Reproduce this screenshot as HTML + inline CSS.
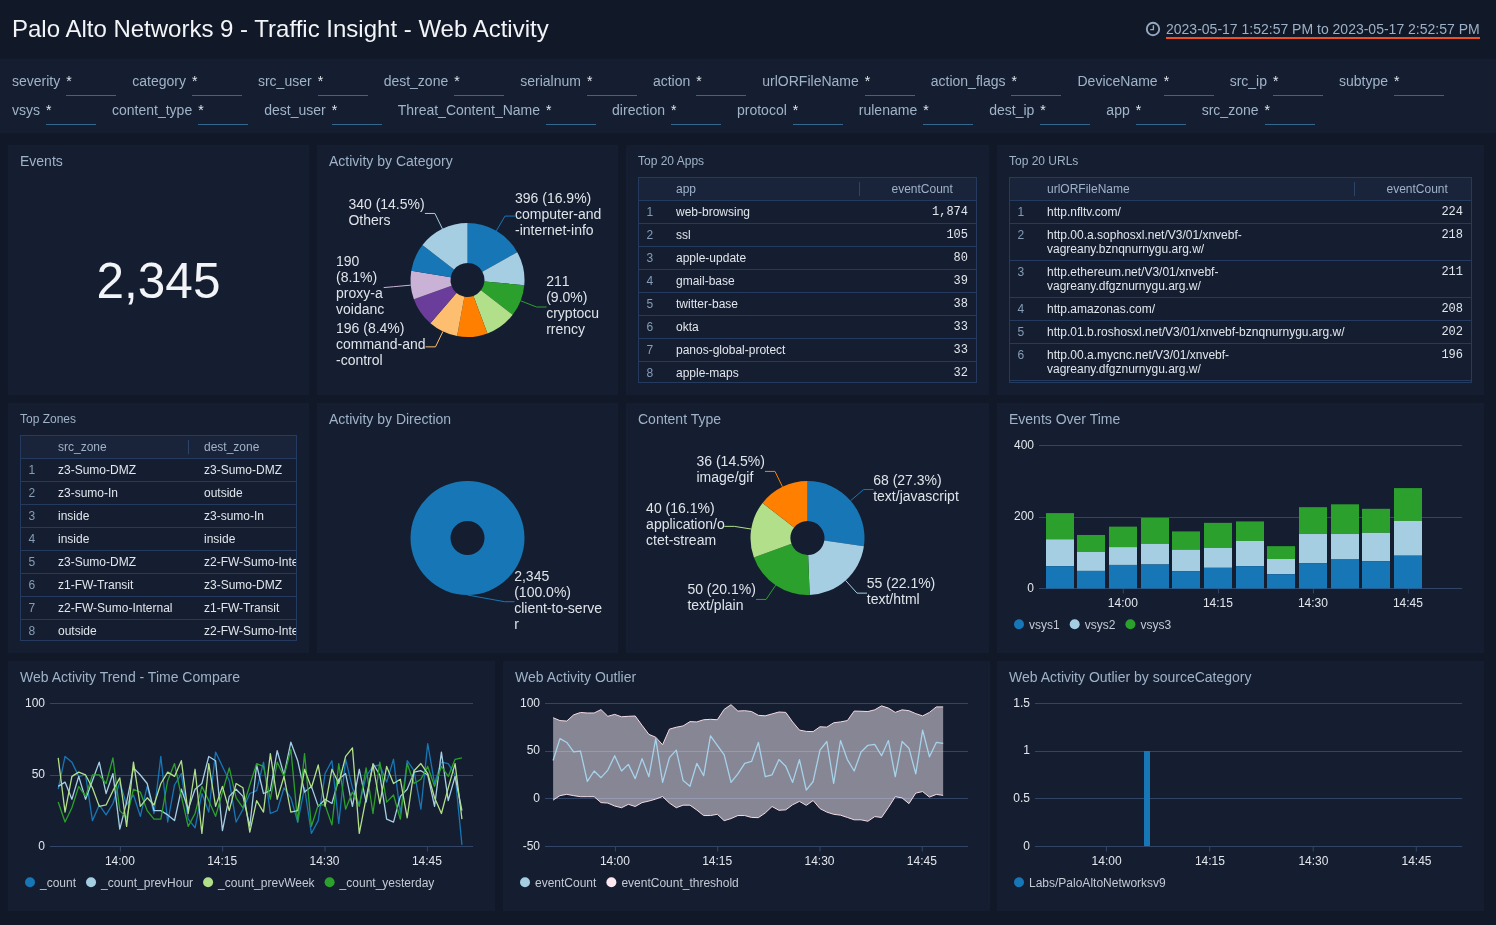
<!DOCTYPE html>
<html lang="en">
<head>
<meta charset="utf-8">
<title>Palo Alto Networks 9 - Traffic Insight - Web Activity</title>
<style>
*{box-sizing:border-box}
html,body{margin:0;padding:0}
body{width:1496px;height:925px;overflow:hidden;background:#111827;font-family:"Liberation Sans",Arial,sans-serif;color:#e6eaf0;position:relative}
.hdr{position:absolute;left:0;top:0;width:1496px;height:59px;background:#111827}
.hdr h1{position:absolute;left:12px;top:15px;margin:0;font-size:24px;line-height:28px;font-weight:400;color:#f2f4f7;white-space:nowrap}
.time{position:absolute;left:1166px;top:21px;font-size:14px;line-height:17px;height:18px;color:#9cb0c7;white-space:nowrap;border-bottom:2px solid #f0501f}
.clock{position:absolute;left:1145px;top:21px}
.flt{position:absolute;left:0;top:59px;width:1496px;height:74px;background:#151e30;padding:8px 0 0 12px}
.fr{display:flex;height:29px;white-space:nowrap}
.f{display:flex;margin-right:16px;font-size:14px;line-height:28px;color:#a0b3c9}
.f span{display:block;margin-right:6px}
.f i{display:block;width:50px;height:29px;border-bottom:1px solid #34688f;font-style:normal;color:#e3e8ee}
.p{position:absolute;background:#151e30}
.p h2{position:absolute;left:12px;top:8px;margin:0;font-weight:400;line-height:16px;color:#9fb2c8;white-space:nowrap}
.big{position:absolute;left:8px;top:253px;width:301px;text-align:center;font-size:49.5px;line-height:56px;color:#f2f4f7}
.charts{position:absolute;left:0;top:0}
.tbl{position:absolute;height:206px;border:1px solid #243a5f;overflow:hidden;font-size:12px;box-sizing:content-box;height:204px}
.tr{display:flex;border-bottom:1px solid #243a5f;min-height:23px;white-space:nowrap}
.tr>div{padding:4px 8px 0 8px;line-height:14px;min-height:22px;padding-bottom:4px;overflow:hidden}
.th{background:#19233a;color:#9fb2c8}
.ix{width:29px;color:#869cb6;padding-left:7.4px!important}
.c1{color:#e1e6ec;position:relative}
.th .c1{color:#9fb2c8}
.th .c1 b{position:absolute;right:6px;top:4px;width:1px;height:14px;background:#2b4467}
.c2{color:#e1e6ec}
.c2.n{text-align:right;font-family:"Liberation Mono","DejaVu Sans Mono",monospace}
.c2h.n{padding-left:25.5px!important}
</style>
</head>
<body>
<div class="hdr">
<h1>Palo Alto Networks 9 - Traffic Insight - Web Activity</h1>
<svg class="clock" width="16" height="16" viewBox="0 0 16 16"><circle cx="8" cy="8" r="6.2" fill="none" stroke="#94a8c0" stroke-width="1.9"/><path d="M8.4 4.3V8.6H5.2" fill="none" stroke="#94a8c0" stroke-width="1.4"/></svg>
<div class="time">2023-05-17 1:52:57 PM to 2023-05-17 2:52:57 PM</div>
</div>
<div class="flt">
<div class="fr"><div class="f"><span>severity</span><i>*</i></div><div class="f"><span>category</span><i>*</i></div><div class="f"><span>src_user</span><i>*</i></div><div class="f"><span>dest_zone</span><i>*</i></div><div class="f"><span>serialnum</span><i>*</i></div><div class="f"><span>action</span><i>*</i></div><div class="f"><span>urlORFileName</span><i>*</i></div><div class="f"><span>action_flags</span><i>*</i></div><div class="f"><span>DeviceName</span><i>*</i></div><div class="f"><span>src_ip</span><i>*</i></div><div class="f"><span>subtype</span><i>*</i></div></div>
<div class="fr"><div class="f"><span>vsys</span><i>*</i></div><div class="f"><span>content_type</span><i>*</i></div><div class="f"><span>dest_user</span><i>*</i></div><div class="f"><span>Threat_Content_Name</span><i>*</i></div><div class="f"><span>direction</span><i>*</i></div><div class="f"><span>protocol</span><i>*</i></div><div class="f"><span>rulename</span><i>*</i></div><div class="f"><span>dest_ip</span><i>*</i></div><div class="f"><span>app</span><i>*</i></div><div class="f"><span>src_zone</span><i>*</i></div></div>
</div>
<div class="p" style="left:8px;top:145px;width:301px;height:250px"><h2 style="font-size:14px">Events</h2></div>
<div class="p" style="left:317px;top:145px;width:301px;height:250px"><h2 style="font-size:14px">Activity by Category</h2></div>
<div class="p" style="left:626px;top:145px;width:363px;height:250px"><h2 style="font-size:12px">Top 20 Apps</h2></div>
<div class="p" style="left:997px;top:145px;width:487px;height:250px"><h2 style="font-size:12px">Top 20 URLs</h2></div>
<div class="p" style="left:8px;top:403px;width:301px;height:250px"><h2 style="font-size:12px">Top Zones</h2></div>
<div class="p" style="left:317px;top:403px;width:301px;height:250px"><h2 style="font-size:14px">Activity by Direction</h2></div>
<div class="p" style="left:626px;top:403px;width:363px;height:250px"><h2 style="font-size:14px">Content Type</h2></div>
<div class="p" style="left:997px;top:403px;width:487px;height:250px"><h2 style="font-size:14px">Events Over Time</h2></div>
<div class="p" style="left:8px;top:661px;width:487px;height:250px"><h2 style="font-size:14px">Web Activity Trend - Time Compare</h2></div>
<div class="p" style="left:503px;top:661px;width:487px;height:250px"><h2 style="font-size:14px">Web Activity Outlier</h2></div>
<div class="p" style="left:997px;top:661px;width:487px;height:250px"><h2 style="font-size:14px">Web Activity Outlier by sourceCategory</h2></div>
<div class="big">2,345</div>
<div class="tbl" style="left:638px;top:177px;width:337px">
<div class="tr th"><div class="ix"></div><div class="c1" style="width:198px">app<b style="right:6px"></b></div><div class="c2h n" style="width:110px">eventCount</div></div>
<div class="tr"><div class="ix">1</div><div class="c1" style="width:198px">web-browsing</div><div class="c2 n" style="width:110px">1,874</div></div>
<div class="tr"><div class="ix">2</div><div class="c1" style="width:198px">ssl</div><div class="c2 n" style="width:110px">105</div></div>
<div class="tr"><div class="ix">3</div><div class="c1" style="width:198px">apple-update</div><div class="c2 n" style="width:110px">80</div></div>
<div class="tr"><div class="ix">4</div><div class="c1" style="width:198px">gmail-base</div><div class="c2 n" style="width:110px">39</div></div>
<div class="tr"><div class="ix">5</div><div class="c1" style="width:198px">twitter-base</div><div class="c2 n" style="width:110px">38</div></div>
<div class="tr"><div class="ix">6</div><div class="c1" style="width:198px">okta</div><div class="c2 n" style="width:110px">33</div></div>
<div class="tr"><div class="ix">7</div><div class="c1" style="width:198px">panos-global-protect</div><div class="c2 n" style="width:110px">33</div></div>
<div class="tr"><div class="ix">8</div><div class="c1" style="width:198px">apple-maps</div><div class="c2 n" style="width:110px">32</div></div>
</div>
<div class="tbl" style="left:1009px;top:177px;width:461px">
<div class="tr th"><div class="ix"></div><div class="c1" style="width:322px">urlORFileName<b style="right:6px"></b></div><div class="c2h n" style="width:110px">eventCount</div></div>
<div class="tr"><div class="ix">1</div><div class="c1" style="width:322px">http.nfltv.com/</div><div class="c2 n" style="width:110px">224</div></div>
<div class="tr"><div class="ix">2</div><div class="c1" style="width:322px">http.00.a.sophosxl.net/V3/01/xnvebf-<br>vagreany.bznqnurnygu.arg.w/</div><div class="c2 n" style="width:110px">218</div></div>
<div class="tr"><div class="ix">3</div><div class="c1" style="width:322px">http.ethereum.net/V3/01/xnvebf-<br>vagreany.dfgznurnygu.arg.w/</div><div class="c2 n" style="width:110px">211</div></div>
<div class="tr"><div class="ix">4</div><div class="c1" style="width:322px">http.amazonas.com/</div><div class="c2 n" style="width:110px">208</div></div>
<div class="tr"><div class="ix">5</div><div class="c1" style="width:322px">http.01.b.roshosxl.net/V3/01/xnvebf-bznqnurnygu.arg.w/</div><div class="c2 n" style="width:110px">202</div></div>
<div class="tr"><div class="ix">6</div><div class="c1" style="width:322px">http.00.a.mycnc.net/V3/01/xnvebf-<br>vagreany.dfgznurnygu.arg.w/</div><div class="c2 n" style="width:110px">196</div></div>
</div>
<div class="tbl" style="left:20px;top:435px;width:275px">
<div class="tr th"><div class="ix"></div><div class="c1" style="width:146px">src_zone<b style="right:7px"></b></div><div class="c2h" style="width:100px">dest_zone</div></div>
<div class="tr"><div class="ix">1</div><div class="c1" style="width:146px">z3-Sumo-DMZ</div><div class="c2" style="width:100px">z3-Sumo-DMZ</div></div>
<div class="tr"><div class="ix">2</div><div class="c1" style="width:146px">z3-sumo-In</div><div class="c2" style="width:100px">outside</div></div>
<div class="tr"><div class="ix">3</div><div class="c1" style="width:146px">inside</div><div class="c2" style="width:100px">z3-sumo-In</div></div>
<div class="tr"><div class="ix">4</div><div class="c1" style="width:146px">inside</div><div class="c2" style="width:100px">inside</div></div>
<div class="tr"><div class="ix">5</div><div class="c1" style="width:146px">z3-Sumo-DMZ</div><div class="c2" style="width:100px">z2-FW-Sumo-Internal</div></div>
<div class="tr"><div class="ix">6</div><div class="c1" style="width:146px">z1-FW-Transit</div><div class="c2" style="width:100px">z3-Sumo-DMZ</div></div>
<div class="tr"><div class="ix">7</div><div class="c1" style="width:146px">z2-FW-Sumo-Internal</div><div class="c2" style="width:100px">z1-FW-Transit</div></div>
<div class="tr"><div class="ix">8</div><div class="c1" style="width:146px">outside</div><div class="c2" style="width:100px">z2-FW-Sumo-Internal</div></div>
</div>
<svg class="charts" width="1496" height="925" viewBox="0 0 1496 925" font-family="Liberation Sans, Arial, sans-serif">
<g font-size="14" fill="#dfe4ea" style="font-kerning:none">
<path d="M467.5 223A57 57 0 0 1 517.25 252.19L482.34 271.7A17 17 0 0 0 467.5 263Z" fill="#1776b6" fill-rule="evenodd"/>
<path d="M517.25 252.19A57 57 0 0 1 524.27 285.15L484.43 281.54A17 17 0 0 0 482.34 271.7Z" fill="#a6cee3" fill-rule="evenodd"/>
<path d="M524.27 285.15A57 57 0 0 1 512.68 314.76L480.97 290.37A17 17 0 0 0 484.43 281.54Z" fill="#2ca02c" fill-rule="evenodd"/>
<path d="M512.68 314.76A57 57 0 0 1 487.46 333.39L473.45 295.92A17 17 0 0 0 480.97 290.37Z" fill="#b2df8a" fill-rule="evenodd"/>
<path d="M487.46 333.39A57 57 0 0 1 457.1 336.04L464.4 296.71A17 17 0 0 0 473.45 295.92Z" fill="#ff7f00" fill-rule="evenodd"/>
<path d="M457.1 336.04A57 57 0 0 1 430.4 323.27L456.44 292.91A17 17 0 0 0 464.4 296.71Z" fill="#fdbf6f" fill-rule="evenodd"/>
<path d="M430.4 323.27A57 57 0 0 1 413.86 299.28L451.5 285.75A17 17 0 0 0 456.44 292.91Z" fill="#6a3d9a" fill-rule="evenodd"/>
<path d="M413.86 299.28A57 57 0 0 1 411.27 270.69L450.73 277.22A17 17 0 0 0 451.5 285.75Z" fill="#cab2d6" fill-rule="evenodd"/>
<path d="M411.27 270.69A57 57 0 0 1 422.46 245.06L454.07 269.58A17 17 0 0 0 450.73 277.22Z" fill="#1776b6" fill-rule="evenodd"/>
<path d="M422.46 245.06A57 57 0 0 1 467.5 223L467.5 263A17 17 0 0 0 454.07 269.58Z" fill="#a6cee3" fill-rule="evenodd"/>
<polyline points="496.34,230.84 504.99,216.09 514.99,216.09" fill="none" stroke="#1776b6" stroke-width="1"/>
<text x="515" y="202.8">396 (16.9%)</text>
<text x="515" y="218.8">computer-and</text>
<text x="515" y="234.8">-internet-info</text>
<polyline points="520.58,300.78 536.5,307.01 546.5,307.01" fill="none" stroke="#2ca02c" stroke-width="1"/>
<text x="546.2" y="286">211</text>
<text x="546.2" y="302">(9.0%)</text>
<text x="546.2" y="318">cryptocu</text>
<text x="546.2" y="334">rrency</text>
<polyline points="442.91,331.42 435.53,346.85 425.53,346.85" fill="none" stroke="#fdbf6f" stroke-width="1"/>
<text x="336" y="332.8">196 (8.4%)</text>
<text x="336" y="348.8">command-and</text>
<text x="336" y="364.8">-control</text>
<polyline points="410.73,285.15 393.7,286.69 383.7,287.6" fill="none" stroke="#cab2d6" stroke-width="1"/>
<text x="336" y="265.7">190</text>
<text x="336" y="281.7">(8.1%)</text>
<text x="336" y="297.7">proxy-a</text>
<text x="336" y="313.7">voidanc</text>
<polyline points="442.43,228.81 434.9,213.46 424.9,213.46" fill="none" stroke="#a6cee3" stroke-width="1"/>
<text x="348.4" y="208.8">340 (14.5%)</text>
<text x="348.4" y="224.8">Others</text>
<path d="M467.5 481A57 57 0 1 1 467.5 595A57 57 0 1 1 467.5 481ZM467.5 521A17 17 0 1 0 467.5 555A17 17 0 1 0 467.5 521Z" fill="#1776b6" fill-rule="evenodd"/>
<polyline points="467.5,595 504.5,601.7 514.5,601.7" fill="none" stroke="#1776b6" stroke-width="1"/>
<text x="514.2" y="580.8">2,345</text>
<text x="514.2" y="596.8">(100.0%)</text>
<text x="514.2" y="612.8">client-to-serve</text>
<text x="514.2" y="628.8">r</text>
<path d="M807.5 481A57 57 0 0 1 863.9 546.24L824.32 540.46A17 17 0 0 0 807.5 521Z" fill="#1776b6" fill-rule="evenodd"/>
<path d="M863.9 546.24A57 57 0 0 1 809.66 594.96L808.14 554.99A17 17 0 0 0 824.32 540.46Z" fill="#a6cee3" fill-rule="evenodd"/>
<path d="M809.66 594.96A57 57 0 0 1 753.9 557.38L791.51 543.78A17 17 0 0 0 808.14 554.99Z" fill="#2ca02c" fill-rule="evenodd"/>
<path d="M753.9 557.38A57 57 0 0 1 762.55 502.95L794.1 527.55A17 17 0 0 0 791.51 543.78Z" fill="#b2df8a" fill-rule="evenodd"/>
<path d="M762.55 502.95A57 57 0 0 1 807.5 481L807.5 521A17 17 0 0 0 794.1 527.55Z" fill="#ff7f00" fill-rule="evenodd"/>
<polyline points="850.62,500.72 863.56,489.54 873.56,489.54" fill="none" stroke="#1776b6" stroke-width="1"/>
<text x="873.2" y="485">68 (27.3%)</text>
<text x="873.2" y="501">text/javascript</text>
<polyline points="845.59,580.41 857.01,593.13 867.01,593.13" fill="none" stroke="#a6cee3" stroke-width="1"/>
<text x="866.8" y="587.8">55 (22.1%)</text>
<text x="866.8" y="603.8">text/html</text>
<polyline points="775.65,585.27 766.09,599.45 756.09,599.45" fill="none" stroke="#2ca02c" stroke-width="1"/>
<text x="687.4" y="593.5">50 (20.1%)</text>
<text x="687.4" y="609.5">text/plain</text>
<polyline points="751.21,529.05 734.32,526.36 724.32,526.36" fill="none" stroke="#b2df8a" stroke-width="1"/>
<text x="646.1" y="513.2">40 (16.1%)</text>
<text x="646.1" y="529.2">application/o</text>
<text x="646.1" y="545.2">ctet-stream</text>
<polyline points="782.49,486.78 774.99,471.41 764.99,471.41" fill="none" stroke="#ff7f00" stroke-width="1"/>
<text x="696.5" y="466.2">36 (14.5%)</text>
<text x="696.5" y="482.2">image/gif</text>
</g>
<path d="M1039 445.5H1462" stroke="#334567" stroke-width="1" fill="none"/>
<path d="M1039 517.5H1462" stroke="#334567" stroke-width="1" fill="none"/>
<path d="M1039 588.5H1462" stroke="#334567" stroke-width="1" fill="none"/>
<path d="M1123.3 588.5v5" stroke="#334567" stroke-width="1" fill="none"/>
<path d="M1218.4 588.5v5" stroke="#334567" stroke-width="1" fill="none"/>
<path d="M1313.4 588.5v5" stroke="#334567" stroke-width="1" fill="none"/>
<path d="M1408.4 588.5v5" stroke="#334567" stroke-width="1" fill="none"/>
<g fill="#e2e6ec" font-size="12">
<text x="1034" y="449" text-anchor="end">400</text>
<text x="1034" y="520" text-anchor="end">200</text>
<text x="1034" y="592" text-anchor="end">0</text>
<text x="1122.8" y="607" text-anchor="middle">14:00</text>
<text x="1217.9" y="607" text-anchor="middle">14:15</text>
<text x="1312.9" y="607" text-anchor="middle">14:30</text>
<text x="1407.9" y="607" text-anchor="middle">14:45</text>
</g>
<rect x="1046" y="513.1" width="28" height="26.17" fill="#2ca02c"/><rect x="1046" y="539.27" width="28" height="26.88" fill="#a6cee3"/><rect x="1046" y="566.16" width="28" height="22.34" fill="#1776b6"/>
<rect x="1077" y="534.98" width="28" height="16.87" fill="#2ca02c"/><rect x="1077" y="551.86" width="28" height="19.05" fill="#a6cee3"/><rect x="1077" y="570.91" width="28" height="17.59" fill="#1776b6"/>
<rect x="1109" y="526.65" width="28" height="20.45" fill="#2ca02c"/><rect x="1109" y="547.1" width="28" height="17.84" fill="#a6cee3"/><rect x="1109" y="564.94" width="28" height="23.56" fill="#1776b6"/>
<rect x="1141" y="517.86" width="28" height="25.92" fill="#2ca02c"/><rect x="1141" y="543.78" width="28" height="20.7" fill="#a6cee3"/><rect x="1141" y="564.48" width="28" height="24.02" fill="#1776b6"/>
<rect x="1172" y="531.41" width="28" height="18.3" fill="#2ca02c"/><rect x="1172" y="549.71" width="28" height="21.41" fill="#a6cee3"/><rect x="1172" y="571.13" width="28" height="17.37" fill="#1776b6"/>
<rect x="1204" y="522.86" width="28" height="24.95" fill="#2ca02c"/><rect x="1204" y="547.82" width="28" height="19.98" fill="#a6cee3"/><rect x="1204" y="567.8" width="28" height="20.7" fill="#1776b6"/>
<rect x="1236" y="521.43" width="28" height="19.52" fill="#2ca02c"/><rect x="1236" y="540.95" width="28" height="25.2" fill="#a6cee3"/><rect x="1236" y="566.16" width="28" height="22.34" fill="#1776b6"/>
<rect x="1267" y="546.17" width="28" height="12.83" fill="#2ca02c"/><rect x="1267" y="559.01" width="28" height="15.23" fill="#a6cee3"/><rect x="1267" y="574.24" width="28" height="14.26" fill="#1776b6"/>
<rect x="1299" y="507.17" width="28" height="26.85" fill="#2ca02c"/><rect x="1299" y="534.02" width="28" height="29.28" fill="#a6cee3"/><rect x="1299" y="563.3" width="28" height="25.2" fill="#1776b6"/>
<rect x="1331" y="504.31" width="28" height="29.71" fill="#2ca02c"/><rect x="1331" y="534.02" width="28" height="25.45" fill="#a6cee3"/><rect x="1331" y="559.47" width="28" height="29.03" fill="#1776b6"/>
<rect x="1362" y="508.81" width="28" height="24.02" fill="#2ca02c"/><rect x="1362" y="532.84" width="28" height="28.31" fill="#a6cee3"/><rect x="1362" y="561.15" width="28" height="27.35" fill="#1776b6"/>
<rect x="1394" y="488.11" width="28" height="32.82" fill="#2ca02c"/><rect x="1394" y="520.93" width="28" height="34.75" fill="#a6cee3"/><rect x="1394" y="555.68" width="28" height="32.82" fill="#1776b6"/>
<g fill="#c3cad4" font-size="12">
<circle cx="1019" cy="624.3" r="5" fill="#1776b6"/>
<text x="1029" y="628.7">vsys1</text>
<circle cx="1074.7" cy="624.3" r="5" fill="#a6cee3"/>
<text x="1084.7" y="628.7">vsys2</text>
<circle cx="1130.4" cy="624.3" r="5" fill="#2ca02c"/>
<text x="1140.4" y="628.7">vsys3</text>
</g>
<path d="M50 703.5H473" stroke="#334567" stroke-width="1" fill="none"/>
<path d="M50 775.5H473" stroke="#334567" stroke-width="1" fill="none"/>
<path d="M50 846.5H473" stroke="#334567" stroke-width="1" fill="none"/>
<path d="M120.4 846.5v5" stroke="#334567" stroke-width="1" fill="none"/>
<path d="M222.7 846.5v5" stroke="#334567" stroke-width="1" fill="none"/>
<path d="M325 846.5v5" stroke="#334567" stroke-width="1" fill="none"/>
<path d="M427.4 846.5v5" stroke="#334567" stroke-width="1" fill="none"/>
<g fill="#e2e6ec" font-size="12">
<text x="45" y="707" text-anchor="end">100</text>
<text x="45" y="778" text-anchor="end">50</text>
<text x="45" y="850" text-anchor="end">0</text>
<text x="119.9" y="864.8" text-anchor="middle">14:00</text>
<text x="222.2" y="864.8" text-anchor="middle">14:15</text>
<text x="324.5" y="864.8" text-anchor="middle">14:30</text>
<text x="426.9" y="864.8" text-anchor="middle">14:45</text>
</g>
<polyline points="58.2,789.24 65.04,756.43 71.89,762.14 78.73,776.4 85.57,774.97 92.42,820.62 99.26,804.93 106.1,814.92 112.94,803.5 119.79,782.11 126.63,804.93 133.47,794.95 140.32,816.34 147.16,786.39 154,813.49 160.84,756.43 167.69,822.05 174.53,784.96 181.37,773.55 188.22,819.2 195.06,827.76 201.9,793.52 208.75,812.06 215.59,752.15 222.43,766.42 229.27,780.68 236.12,822.05 242.96,809.21 249.8,793.52 256.65,790.67 263.49,762.14 270.33,813.49 277.18,810.64 284.02,787.81 290.86,797.8 297.7,822.05 304.55,787.81 311.39,833.46 318.23,820.62 325.08,773.55 331.92,760.71 338.76,823.48 345.61,759.28 352.45,787.81 359.29,804.93 366.13,776.4 372.98,766.42 379.82,764.99 386.66,782.11 393.51,759.28 400.35,813.49 407.19,760.71 414.04,770.7 420.88,809.21 427.72,743.59 434.56,783.53 441.41,762.14 448.25,763.56 455.09,774.97 461.94,844.87" fill="none" stroke="#1776b6" stroke-width="1.3" stroke-linejoin="round"/>
<polyline points="58.2,786.39 65.04,782.11 71.89,799.23 78.73,776.4 85.57,799.23 92.42,780.68 99.26,762.14 106.1,793.52 112.94,773.55 119.79,829.18 126.63,802.08 133.47,767.84 140.32,774.97 147.16,783.53 154,810.64 160.84,810.64 167.69,814.92 174.53,820.62 181.37,789.24 188.22,809.21 195.06,789.24 201.9,783.53 208.75,756.43 215.59,760.71 222.43,830.61 229.27,796.37 236.12,789.24 242.96,796.37 249.8,826.33 256.65,764.99 263.49,793.52 270.33,790.67 277.18,750.72 284.02,774.97 290.86,742.17 297.7,760.71 304.55,792.09 311.39,786.39 318.23,806.36 325.08,799.23 331.92,803.5 338.76,779.25 345.61,773.55 352.45,806.36 359.29,769.27 366.13,802.08 372.98,763.56 379.82,774.97 386.66,819.2 393.51,822.05 400.35,796.37 407.19,789.24 414.04,772.12 420.88,770.7 427.72,774.97 434.56,806.36 441.41,752.15 448.25,800.65 455.09,776.4 461.94,810.64" fill="none" stroke="#a6cee3" stroke-width="1.3" stroke-linejoin="round"/>
<polyline points="58.2,802.08 65.04,822.05 71.89,807.78 78.73,786.39 85.57,796.37 92.42,774.97 99.26,774.97 106.1,783.53 112.94,757.86 119.79,810.64 126.63,817.77 133.47,789.24 140.32,792.09 147.16,810.64 154,819.2 160.84,819.2 167.69,780.68 174.53,763.56 181.37,796.37 188.22,826.33 195.06,813.49 201.9,786.39 208.75,800.65 215.59,816.34 222.43,792.09 229.27,767.84 236.12,797.8 242.96,807.78 249.8,784.96 256.65,763.56 263.49,766.42 270.33,799.23 277.18,762.14 284.02,776.4 290.86,749.3 297.7,822.05 304.55,753.58 311.39,826.33 318.23,804.93 325.08,804.93 331.92,824.9 338.76,763.56 345.61,809.21 352.45,792.09 359.29,806.36 366.13,767.84 372.98,813.49 379.82,762.14 386.66,802.08 393.51,794.95 400.35,819.2 407.19,763.56 414.04,783.53 420.88,779.25 427.72,766.42 434.56,786.39 441.41,766.42 448.25,776.4 455.09,759.28 461.94,757.86" fill="none" stroke="#2ca02c" stroke-width="1.3" stroke-linejoin="round"/>
<polyline points="58.2,757.86 65.04,812.06 71.89,776.4 78.73,772.12 85.57,774.97 92.42,787.81 99.26,806.36 106.1,804.93 112.94,790.67 119.79,777.83 126.63,826.33 133.47,762.14 140.32,806.36 147.16,797.8 154,804.93 160.84,783.53 167.69,772.12 174.53,776.4 181.37,760.71 188.22,813.49 195.06,769.27 201.9,833.46 208.75,763.56 215.59,806.36 222.43,786.39 229.27,810.64 236.12,783.53 242.96,787.81 249.8,832.03 256.65,800.65 263.49,812.06 270.33,753.58 277.18,799.23 284.02,776.4 290.86,812.06 297.7,810.64 304.55,769.27 311.39,787.81 318.23,764.99 325.08,806.36 331.92,769.27 338.76,783.53 345.61,756.43 352.45,747.87 359.29,833.46 366.13,797.8 372.98,764.99 379.82,803.5 386.66,766.42 393.51,783.53 400.35,779.25 407.19,817.77 414.04,770.7 420.88,763.56 427.72,773.55 434.56,797.8 441.41,813.49 448.25,787.81 455.09,763.56 461.94,819.2" fill="none" stroke="#b2df8a" stroke-width="1.3" stroke-linejoin="round"/>
<g fill="#c3cad4" font-size="12">
<circle cx="30" cy="882.3" r="5" fill="#1776b6"/>
<text x="40" y="886.7">_count</text>
<circle cx="91.03" cy="882.3" r="5" fill="#a6cee3"/>
<text x="101.03" y="886.7">_count_prevHour</text>
<circle cx="208.09" cy="882.3" r="5" fill="#b2df8a"/>
<text x="218.09" y="886.7">_count_prevWeek</text>
<circle cx="329.61" cy="882.3" r="5" fill="#2ca02c"/>
<text x="339.61" y="886.7">_count_yesterday</text>
</g>
<path d="M545 703.5H968" stroke="#334567" stroke-width="1" fill="none"/>
<path d="M545 751.5H968" stroke="#334567" stroke-width="1" fill="none"/>
<path d="M545 798.5H968" stroke="#334567" stroke-width="1" fill="none"/>
<path d="M545 846.5H968" stroke="#334567" stroke-width="1" fill="none"/>
<path d="M615.4 846.5v5" stroke="#334567" stroke-width="1" fill="none"/>
<path d="M717.7 846.5v5" stroke="#334567" stroke-width="1" fill="none"/>
<path d="M820 846.5v5" stroke="#334567" stroke-width="1" fill="none"/>
<path d="M922.3 846.5v5" stroke="#334567" stroke-width="1" fill="none"/>
<g fill="#e2e6ec" font-size="12">
<text x="540" y="707" text-anchor="end">100</text>
<text x="540" y="754" text-anchor="end">50</text>
<text x="540" y="802" text-anchor="end">0</text>
<text x="540" y="850" text-anchor="end">-50</text>
<text x="614.9" y="864.8" text-anchor="middle">14:00</text>
<text x="717.2" y="864.8" text-anchor="middle">14:15</text>
<text x="819.5" y="864.8" text-anchor="middle">14:30</text>
<text x="921.8" y="864.8" text-anchor="middle">14:45</text>
</g>
<polygon points="553.1,717.72 559.94,720.58 566.79,721.05 573.63,714.87 580.47,712.49 587.32,712.97 594.16,712.97 601,709.63 607.84,716.3 614.69,714.39 621.53,716.77 628.37,716.3 635.22,716.01 642.06,725.33 648.9,734.37 655.75,737.23 662.59,744.75 669.43,729.14 676.27,727.24 683.12,725.91 689.96,721.62 696.8,721.91 703.65,719.72 710.49,719.34 717.33,719.72 724.17,709.35 731.02,704.69 737.86,711.06 744.7,710.68 751.55,711.54 758.39,715.34 765.23,715.82 772.08,713.92 778.92,712.01 785.76,712.39 792.61,721.91 799.45,730.09 806.29,731.42 813.13,731.61 819.98,726.76 826.82,727.14 833.66,722.77 840.51,721.91 847.35,720.58 854.19,711.06 861.04,711.25 867.88,711.54 874.72,709.83 881.56,705.83 888.41,708.11 895.25,712.39 902.09,709.83 908.94,710.68 915.78,713.63 922.62,715.91 929.47,712.39 936.31,706.88 943.15,706.88 943.15,795.36 936.31,794.41 929.47,797.08 922.62,791.56 915.78,793.08 908.94,803.64 902.09,797.93 895.25,796.7 888.41,807.45 881.56,817.44 874.72,816.58 867.88,821.25 861.04,819.82 854.19,819.82 847.35,817.44 840.51,815.16 833.66,814.3 826.82,812.11 819.98,808.59 813.13,800.5 806.29,805.36 799.45,801.36 792.61,804.78 785.76,809.83 778.92,810.3 772.08,806.5 765.23,812.97 758.39,817.63 751.55,817.44 744.7,815.54 737.86,815.54 731.02,818.58 724.17,820.67 717.33,814.3 710.49,815.54 703.65,815.54 696.8,810.02 689.96,805.17 683.12,805.17 676.27,807.73 669.43,803.07 662.59,796.51 655.75,799.08 648.9,801.07 642.06,802.6 635.22,806.5 628.37,804.31 621.53,807.73 614.69,806.02 607.84,803.07 601,802.6 594.16,796.7 587.32,796.7 580.47,796.7 573.63,795.65 566.79,794.32 559.94,795.65 553.1,800.12" fill="#f9edfa" fill-opacity="0.5"/>
<polyline points="553.1,717.72 559.94,720.58 566.79,721.05 573.63,714.87 580.47,712.49 587.32,712.97 594.16,712.97 601,709.63 607.84,716.3 614.69,714.39 621.53,716.77 628.37,716.3 635.22,716.01 642.06,725.33 648.9,734.37 655.75,737.23 662.59,744.75 669.43,729.14 676.27,727.24 683.12,725.91 689.96,721.62 696.8,721.91 703.65,719.72 710.49,719.34 717.33,719.72 724.17,709.35 731.02,704.69 737.86,711.06 744.7,710.68 751.55,711.54 758.39,715.34 765.23,715.82 772.08,713.92 778.92,712.01 785.76,712.39 792.61,721.91 799.45,730.09 806.29,731.42 813.13,731.61 819.98,726.76 826.82,727.14 833.66,722.77 840.51,721.91 847.35,720.58 854.19,711.06 861.04,711.25 867.88,711.54 874.72,709.83 881.56,705.83 888.41,708.11 895.25,712.39 902.09,709.83 908.94,710.68 915.78,713.63 922.62,715.91 929.47,712.39 936.31,706.88 943.15,706.88" fill="none" stroke="#f4dbe4" stroke-width="1" stroke-linejoin="round"/>
<polyline points="553.1,800.12 559.94,795.65 566.79,794.32 573.63,795.65 580.47,796.7 587.32,796.7 594.16,796.7 601,802.6 607.84,803.07 614.69,806.02 621.53,807.73 628.37,804.31 635.22,806.5 642.06,802.6 648.9,801.07 655.75,799.08 662.59,796.51 669.43,803.07 676.27,807.73 683.12,805.17 689.96,805.17 696.8,810.02 703.65,815.54 710.49,815.54 717.33,814.3 724.17,820.67 731.02,818.58 737.86,815.54 744.7,815.54 751.55,817.44 758.39,817.63 765.23,812.97 772.08,806.5 778.92,810.3 785.76,809.83 792.61,804.78 799.45,801.36 806.29,805.36 813.13,800.5 819.98,808.59 826.82,812.11 833.66,814.3 840.51,815.16 847.35,817.44 854.19,819.82 861.04,819.82 867.88,821.25 874.72,816.58 881.56,817.44 888.41,807.45 895.25,796.7 902.09,797.93 908.94,803.64 915.78,793.08 922.62,791.56 929.47,797.08 936.31,794.41 943.15,795.36" fill="none" stroke="#f4dbe4" stroke-width="1" stroke-linejoin="round"/>
<polyline points="553.1,760.54 559.94,738.66 566.79,742.46 573.63,751.98 580.47,751.02 587.32,781.47 594.16,771.01 601,777.67 607.84,770.06 614.69,755.78 621.53,771.01 628.37,764.35 635.22,778.62 642.06,758.64 648.9,776.72 655.75,738.66 662.59,782.42 669.43,757.69 676.27,750.07 683.12,780.52 689.96,786.23 696.8,763.39 703.65,775.76 710.49,735.8 717.33,745.32 724.17,754.83 731.02,782.42 737.86,773.86 744.7,763.39 751.55,761.49 758.39,742.46 765.23,776.72 772.08,774.81 778.92,759.59 785.76,766.25 792.61,782.42 799.45,759.59 806.29,790.04 813.13,781.47 819.98,750.07 826.82,741.51 833.66,783.38 840.51,740.56 847.35,759.59 854.19,771.01 861.04,751.98 867.88,745.32 874.72,744.36 881.56,755.78 888.41,740.56 895.25,776.72 902.09,741.51 908.94,748.17 915.78,773.86 922.62,730.09 929.47,756.73 936.31,742.46 943.15,743.41" fill="none" stroke="#a6d3ea" stroke-width="1.3" stroke-linejoin="round"/>
<g fill="#c3cad4" font-size="12">
<circle cx="525" cy="882.3" r="5" fill="#a6cee3"/>
<text x="535" y="886.7">eventCount</text>
<circle cx="611.39" cy="882.3" r="5" fill="#fde8f1"/>
<text x="621.39" y="886.7">eventCount_threshold</text>
</g>
<path d="M1035 703.5H1462" stroke="#334567" stroke-width="1" fill="none"/>
<path d="M1035 751.5H1462" stroke="#334567" stroke-width="1" fill="none"/>
<path d="M1035 798.5H1462" stroke="#334567" stroke-width="1" fill="none"/>
<path d="M1035 846.5H1462" stroke="#334567" stroke-width="1" fill="none"/>
<path d="M1106.4 846.5v5" stroke="#334567" stroke-width="1" fill="none"/>
<path d="M1209.7 846.5v5" stroke="#334567" stroke-width="1" fill="none"/>
<path d="M1313.2 846.5v5" stroke="#334567" stroke-width="1" fill="none"/>
<path d="M1416.3 846.5v5" stroke="#334567" stroke-width="1" fill="none"/>
<g fill="#e2e6ec" font-size="12">
<text x="1030" y="707" text-anchor="end">1.5</text>
<text x="1030" y="754" text-anchor="end">1</text>
<text x="1030" y="802" text-anchor="end">0.5</text>
<text x="1030" y="850" text-anchor="end">0</text>
<text x="1106.6" y="864.8" text-anchor="middle">14:00</text>
<text x="1209.9" y="864.8" text-anchor="middle">14:15</text>
<text x="1313.4" y="864.8" text-anchor="middle">14:30</text>
<text x="1416.5" y="864.8" text-anchor="middle">14:45</text>
</g>
<rect x="1144" y="751" width="6" height="95" fill="#1776b6"/>
<g fill="#c3cad4" font-size="12">
<circle cx="1019" cy="882.3" r="5" fill="#1776b6"/>
<text x="1029" y="886.7">Labs/PaloAltoNetworksv9</text>
</g>
</svg>
</body>
</html>
